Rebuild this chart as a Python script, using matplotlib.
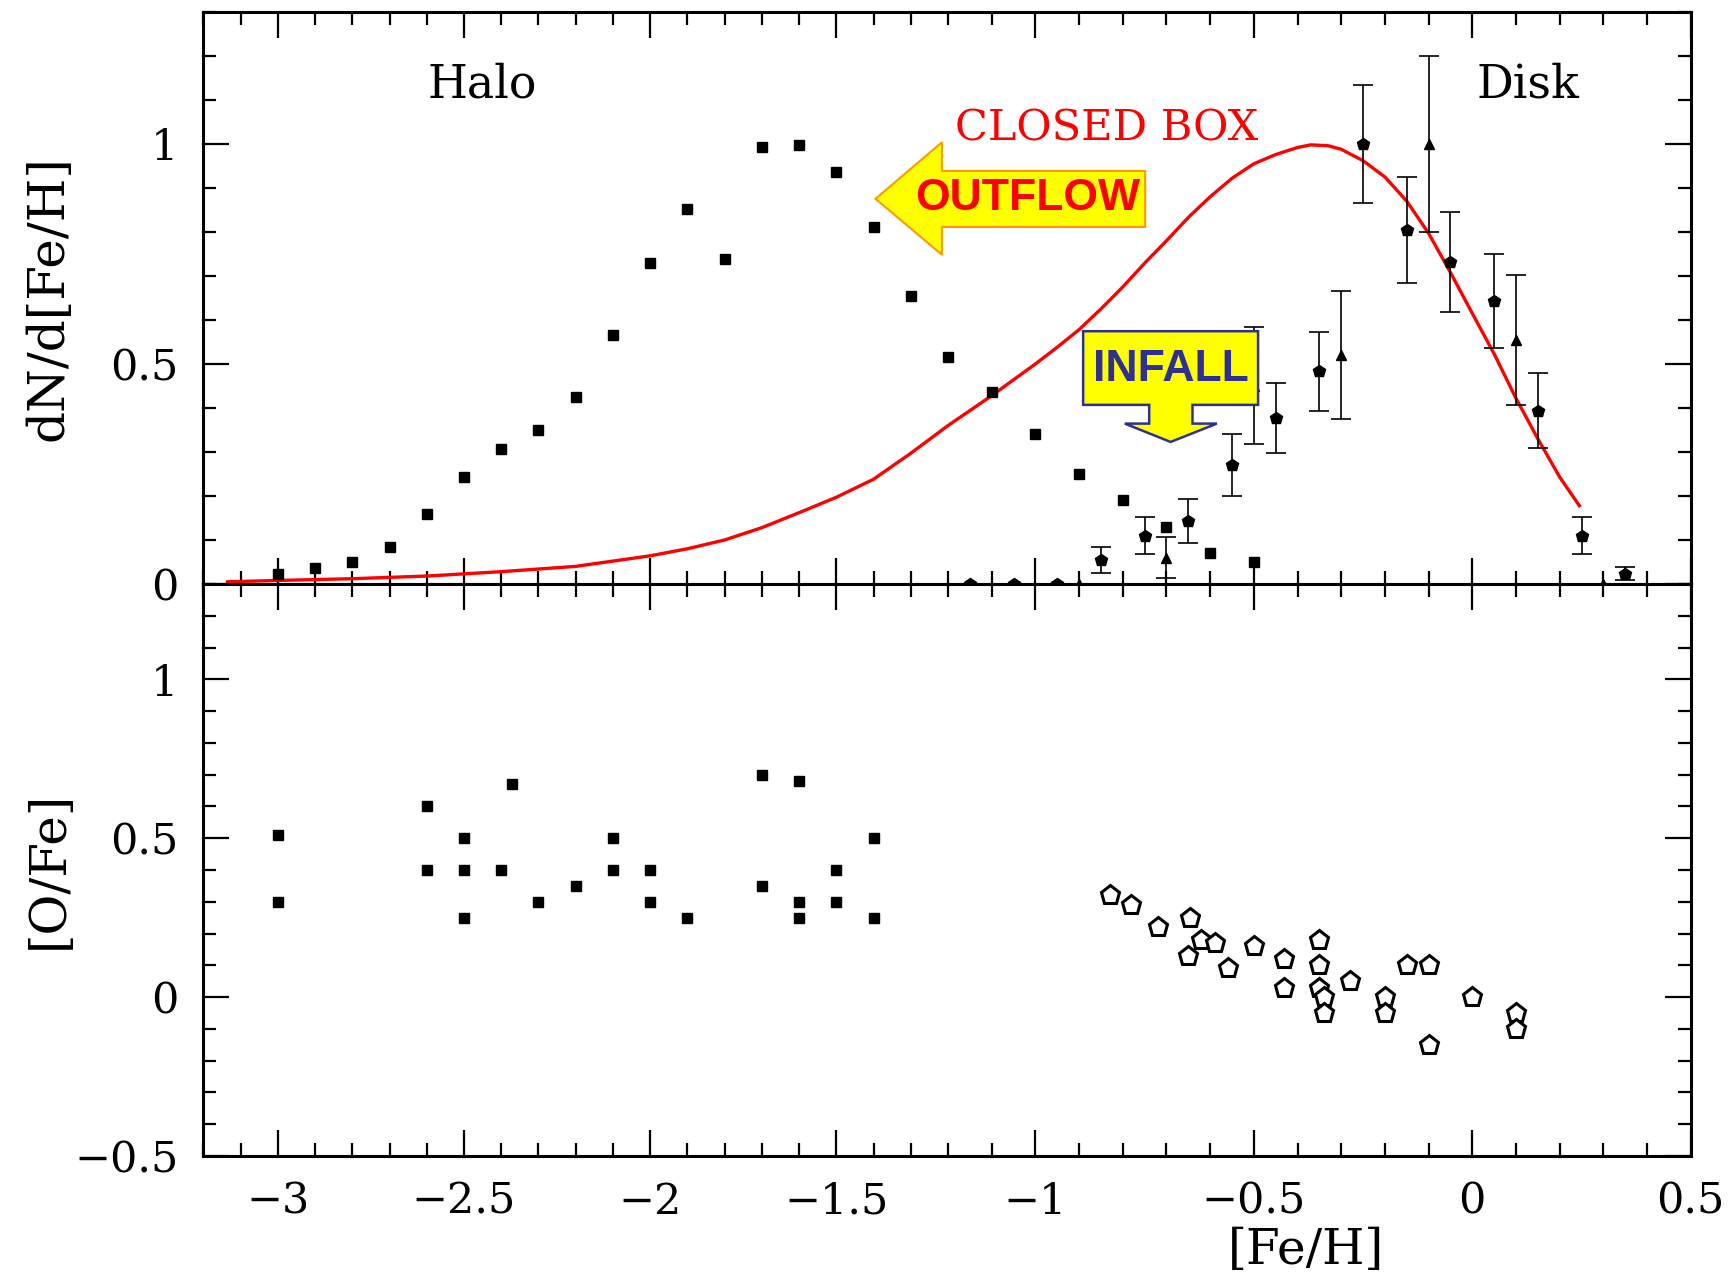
'''
metallicity distribution of halo / disk stars and [O/Fe] vs [Fe/H]
'''
import numpy as np
import matplotlib
matplotlib.use('Agg')
import matplotlib.pyplot as plt
from matplotlib.patches import Polygon
from matplotlib.ticker import MultipleLocator, FixedLocator, FuncFormatter

# --- top panel: halo distribution (filled squares)
halo_feh = [-3.0, -2.9, -2.8, -2.7, -2.6, -2.5, -2.4, -2.3, -2.2, -2.1, -2.0, -1.9, -1.8,
            -1.7, -1.6, -1.5, -1.4, -1.3, -1.2, -1.1, -1.0, -0.9, -0.8, -0.7, -0.6, -0.5]
halo_dn = [0.023, 0.036, 0.049, 0.084, 0.158, 0.244, 0.306, 0.349, 0.425, 0.566, 0.729, 0.852, 0.738,
           0.994, 0.998, 0.937, 0.811, 0.655, 0.516, 0.436, 0.340, 0.251, 0.190, 0.129, 0.071, 0.051]

# --- top panel: disk distribution (filled pentagons, with errors)
disk_feh = [-1.15, -1.05, -0.95, -0.85, -0.75, -0.65, -0.55, -0.45, -0.35,
            -0.25, -0.15, -0.05, 0.05, 0.15, 0.25, 0.35]
disk_dn = [0.0, 0.0, 0.0, 0.054, 0.110, 0.143, 0.271, 0.377, 0.483,
           1.0, 0.805, 0.731, 0.644, 0.394, 0.110, 0.023]
disk_err = [0.0, 0.0, 0.0, 0.029, 0.043, 0.050, 0.070, 0.080, 0.090,
            0.134, 0.120, 0.114, 0.107, 0.085, 0.043, 0.015]

# --- top panel: second disk sample (triangles, with errors)
tri_feh = [-0.9, -0.7, -0.5, -0.3, -0.1, 0.1, 0.3]
tri_dn = [0.0, 0.060, 0.450, 0.520, 1.0, 0.555, 0.0]
tri_err = [0.0, 0.046, 0.133, 0.145, 0.200, 0.148, 0.0]

# --- closed box model
cb_feh = [-3.135, -3.0, -2.8, -2.6, -2.4, -2.2, -2.0, -1.9, -1.8, -1.7, -1.6, -1.5, -1.4,
          -1.3, -1.2, -1.1, -1.0, -0.95, -0.9, -0.85, -0.8, -0.75, -0.7, -0.65, -0.6,
          -0.55, -0.5, -0.45, -0.4, -0.37, -0.33, -0.3, -0.25, -0.2, -0.15, -0.1,
          -0.05, 0.0, 0.05, 0.1, 0.15, 0.2, 0.245]
cb_dn = [0.005, 0.008, 0.012, 0.018, 0.028, 0.040, 0.064, 0.080, 0.100, 0.128, 0.162, 0.197, 0.238,
         0.297, 0.360, 0.428, 0.500, 0.538, 0.578, 0.625, 0.675, 0.729, 0.780, 0.833, 0.880,
         0.922, 0.955, 0.976, 0.992, 0.998, 0.996, 0.988, 0.962, 0.925, 0.870, 0.797,
         0.708, 0.615, 0.523, 0.422, 0.330, 0.243, 0.178]

# --- bottom panel: halo [O/Fe] (filled squares)
ofe_halo_feh = [-3.0, -3.0, -2.6, -2.6, -2.5, -2.5, -2.5, -2.4, -2.37, -2.3, -2.2, -2.1, -2.1,
                -2.0, -2.0, -1.9, -1.7, -1.7, -1.6, -1.6, -1.6, -1.5, -1.5, -1.4, -1.4]
ofe_halo = [0.51, 0.30, 0.60, 0.40, 0.50, 0.40, 0.25, 0.40, 0.67, 0.30, 0.35, 0.50, 0.40,
            0.40, 0.30, 0.25, 0.70, 0.35, 0.68, 0.30, 0.25, 0.40, 0.30, 0.50, 0.25]

# --- bottom panel: disk [O/Fe] (open pentagons)
ofe_disk_feh = [-0.83, -0.78, -0.72, -0.645, -0.65, -0.62, -0.59, -0.56, -0.5, -0.43, -0.43,
                -0.35, -0.35, -0.35, -0.34, -0.34, -0.28, -0.2, -0.2, -0.15, -0.1, -0.1,
                0.0, 0.1, 0.1]
ofe_disk = [0.32, 0.29, 0.22, 0.25, 0.13, 0.18, 0.17, 0.09, 0.16, 0.12, 0.03,
            0.18, 0.10, 0.03, 0.0, -0.05, 0.05, 0.0, -0.05, 0.10, 0.10, -0.15,
            0.0, -0.05, -0.10]

# the original x axis is stretched differently on both sides of [Fe/H] = -1.2
XB = -1.2
SL, SR = 372.3, 436.9


def fwd(x):
    x = np.asarray(x, dtype=float)
    return np.where(x < XB, SL * (x - XB), SR * (x - XB))


def inv(u):
    u = np.asarray(u, dtype=float)
    return np.where(u < 0, u / SL + XB, u / SR + XB)


def fmt(v, pos):
    return f'{v:g}'.replace('-', '\u2212')


plt.rcParams['font.family'] = ['DejaVu Serif']
fig, (ax1, ax2) = plt.subplots(2, 1, sharex=True, figsize=(17.35, 12.88), dpi=100)
fig.subplots_adjust(left=0.1172, right=0.9745, top=0.9907, bottom=0.1025, hspace=0)

for ax in (ax1, ax2):
    ax.set_xscale('function', functions=(fwd, inv))
    for sp in ax.spines.values():
        sp.set_linewidth(2.2)
    ax.tick_params(which='both', direction='in', top=True, right=True, width=1.6,
                   labelsize=31, pad=18)
    ax.tick_params(which='major', length=18.5)
    ax.tick_params(which='minor', length=9.5)
    ax.yaxis.set_minor_locator(MultipleLocator(0.1))
    ax.yaxis.set_major_formatter(FuncFormatter(fmt))

ax2.set_xlim(-3.2, 0.5)
ax2.xaxis.set_major_locator(MultipleLocator(0.5))
ax2.xaxis.set_minor_locator(MultipleLocator(0.1))
ax2.xaxis.set_major_formatter(FuncFormatter(fmt))
ax1.tick_params(labelbottom=False)

# top panel
ax1.set_ylim(0, 1.3)
ax1.yaxis.set_major_locator(FixedLocator([0, 0.5, 1]))
ax1.plot(halo_feh, halo_dn, 's', color='k', ms=7, clip_on=False, zorder=3)
ax1.plot(cb_feh, cb_dn, '-', color='#ff0000', lw=2.4, zorder=2)
for xs, ys, es, mk, ms in [(disk_feh, disk_dn, disk_err, 'p', 9), (tri_feh, tri_dn, tri_err, '^', 7)]:
    eb = ax1.errorbar(xs, ys, yerr=es, fmt=mk, color='k', ms=ms, capsize=7,
                      elinewidth=1.2, capthick=1.2, zorder=3)
    for art in eb.get_children():
        art.set_clip_on(False)

ax1.text(-2.45, 1.134, 'Halo', fontsize=33, ha='center', va='center')
ax1.text(0.128, 1.134, 'Disk', fontsize=33, ha='center', va='center')
ax1.text(-0.838, 1.036, 'CLOSED BOX', fontsize=31, color='#ff0000', ha='center', va='center')

# OUTFLOW / INFALL block arrows (axes fraction)
out_arrow = [(0.4519, 0.6734), (0.4966, 0.7723), (0.4966, 0.7222), (0.6332, 0.7222),
             (0.6332, 0.6242), (0.4966, 0.6242), (0.4966, 0.5755)]
ax1.add_patch(Polygon(out_arrow, closed=True, transform=ax1.transAxes, facecolor='#ffff00',
                      edgecolor='#ff9900', lw=1.5, zorder=6))
ax1.text(0.5543, 0.6734, 'OUTFLOW', transform=ax1.transAxes, fontsize=32, fontweight='bold',
         color='#ff0000', ha='center', va='center', zorder=7,
         family=['Liberation Sans Narrow', 'Liberation Sans', 'DejaVu Sans'])
in_arrow = [(0.5915, 0.4419), (0.7091, 0.4419), (0.7091, 0.3131), (0.6650, 0.3131),
            (0.6650, 0.2804), (0.6814, 0.2804), (0.6503, 0.2483), (0.6195, 0.2804),
            (0.6359, 0.2804), (0.6359, 0.3131), (0.5915, 0.3131)]
ax1.add_patch(Polygon(in_arrow, closed=True, transform=ax1.transAxes, facecolor='#ffff00',
                      edgecolor='#2e3192', lw=1.8, zorder=6))
ax1.text(0.6503, 0.3751, 'INFALL', transform=ax1.transAxes, fontsize=32, fontweight='bold',
         color='#2e3192', ha='center', va='center', zorder=7,
         family=['Liberation Sans Narrow', 'Liberation Sans', 'DejaVu Sans'])

ax1.set_ylabel('dN/d[Fe/H]', fontsize=36, va='center')
ax1.yaxis.set_label_coords(-0.104, 0.5)

# bottom panel
ax2.set_ylim(-0.5, 1.3)
ax2.yaxis.set_major_locator(FixedLocator([-0.5, 0, 0.5, 1]))
ax2.plot(ofe_halo_feh, ofe_halo, 's', color='k', ms=7.5, zorder=3)
ax2.plot(ofe_disk_feh, ofe_disk, 'p', mfc='white', mec='k', mew=2.2, ms=14, zorder=3)
ax2.set_ylabel('[O/Fe]', fontsize=36, va='center')
ax2.yaxis.set_label_coords(-0.104, 0.5)
ax2.set_xlabel('[Fe/H]', fontsize=35)
ax2.xaxis.set_label_coords(0.741, -0.125)

plt.savefig('out.png', dpi=100)
